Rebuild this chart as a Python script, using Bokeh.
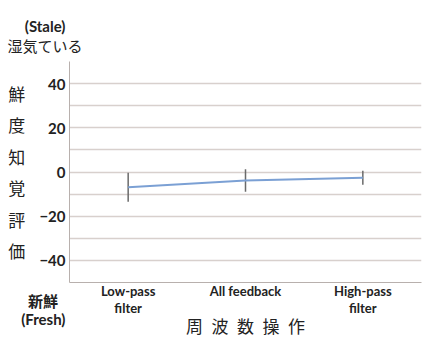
from bokeh.plotting import figure
from bokeh.models import FixedTicker, ColumnDataSource, Title
from bokeh.embed import file_html
from bokeh.resources import INLINE

categories = ["Low-pass\nfilter", "All feedback", "High-pass\nfilter"]
means = [-6.9, -3.85, -2.6]
errors = [6.6, 5.05, 3.2]
y_ticks = [-50, -40, -20, 0, 20, 40, 50]
grid_ticks = [-50, -40, -30, -20, -10, 0, 10, 20, 30, 40, 50]
y_title = "鮮\n度\n知\n覚\n評\n価"
x_title = "周\u2002波\u2002数\u2002操\u2002作"
top_title = "湿気ている"
top_label = "(Stale)\n\n\n\n"
bottom_label = "\n\n\n新鮮\u2002\n(Fresh)"

lower = [m - e for m, e in zip(means, errors)]
upper = [m + e for m, e in zip(means, errors)]
src = ColumnDataSource(dict(x=categories, y=means, lo=lower, hi=upper))

LAT = "Lato, 'Noto Sans CJK JP'"
CJK = "'Noto Sans CJK JP'"
TXT = "#222222"

p = figure(width=423, height=341, x_range=categories, y_range=(-50, 50),
           output_backend="svg", toolbar_location=None,
           min_border_left=69, min_border_right=2, min_border_top=61, min_border_bottom=58)
p.outline_line_color = None
p.background_fill_color = "white"
p.border_fill_color = "white"

p.xgrid.grid_line_color = None
p.ygrid.ticker = FixedTicker(ticks=grid_ticks)
p.ygrid.grid_line_color = "#d8d0cd"
p.ygrid.grid_line_width = 1.5

p.yaxis.ticker = FixedTicker(ticks=y_ticks)
p.yaxis.major_label_overrides = {-50: bottom_label, 50: top_label}
p.yaxis.major_tick_line_color = None
p.yaxis.minor_tick_line_color = None
p.yaxis.major_tick_out = 0
p.yaxis.major_tick_in = 0
p.yaxis.minor_tick_out = 0
p.yaxis.axis_line_color = "#b8b0ad"
p.yaxis.major_label_text_font = LAT
p.yaxis.major_label_text_font_style = "bold"
p.yaxis.major_label_text_font_size = "15px"
p.yaxis.major_label_text_color = TXT
p.yaxis.major_label_text_line_height = 1.0
p.yaxis.major_label_standoff = 4
p.yaxis.axis_label = y_title
p.yaxis.axis_label_orientation = "horizontal"
p.yaxis.axis_label_text_font = CJK
p.yaxis.axis_label_text_font_style = "normal"
p.yaxis.axis_label_text_font_size = "17px"
p.yaxis.axis_label_text_color = TXT
p.yaxis.axis_label_text_line_height = 1.26
p.yaxis.axis_label_standoff = -7

p.xaxis.major_tick_line_color = None
p.xaxis.major_tick_out = 0
p.xaxis.major_tick_in = 0
p.xaxis.axis_line_color = "#b8b0ad"
p.xaxis.major_label_text_font = LAT
p.xaxis.major_label_text_font_style = "bold"
p.xaxis.major_label_text_font_size = "13px"
p.xaxis.major_label_text_color = TXT
p.xaxis.major_label_text_line_height = 1.1
p.xaxis.major_label_standoff = 0
p.xaxis.axis_label = x_title
p.xaxis.axis_label_text_font = CJK
p.xaxis.axis_label_text_font_style = "normal"
p.xaxis.axis_label_text_font_size = "17px"
p.xaxis.axis_label_text_color = TXT
p.xaxis.axis_label_standoff = -6

p.segment(x0="x", y0="lo", x1="x", y1="hi", source=src, line_color="#6a6a6a", line_width=1.5)
p.line(x="x", y="y", source=src, line_color="#7ba0d4", line_width=1.8)

p.add_layout(Title(text=top_title, align="left", offset=-62, text_font=CJK,
                   text_font_size="15px", text_font_style="normal", text_color=TXT,
                   standoff=11), "above")

open("out.html", "w").write(file_html(p, INLINE))
